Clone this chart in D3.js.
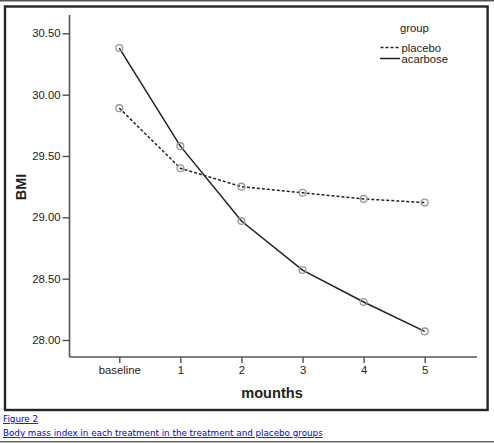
<!DOCTYPE html>
<html>
<head>
<meta charset="utf-8">
<script src="https://cdn.jsdelivr.net/npm/d3@7"></script>
<style>
  body { margin: 0; background: #fff; }
  svg { display: block; }
  .tick text { font-family: "Liberation Sans", Arial, sans-serif; font-size: 11.3px; fill: #222; }
  .caption { font-family: "DejaVu Sans", Verdana, sans-serif; font-size: 8.75px; fill: #0000ee; text-decoration: underline; }
</style>
</head>
<body>
<script>
// months on the x axis
var months = ["baseline", "1", "2", "3", "4", "5"];
// mean BMI per group
var placebo = [29.89, 29.40, 29.25, 29.20, 29.15, 29.12];
var acarbose = [30.38, 29.58, 28.97, 28.57, 28.31, 28.07];
var yTicks = [28.0, 28.5, 29.0, 29.5, 30.0, 30.5];

var W = 494, H = 443;

var svg = d3.select("body").append("svg")
    .attr("width", W)
    .attr("height", H);

svg.append("rect").attr("width", W).attr("height", H).attr("fill", "#fff");

// page rules
svg.append("line").attr("x1", 0).attr("x2", W).attr("y1", 0.8).attr("y2", 0.8)
    .attr("stroke", "#555").attr("stroke-width", 1.6);
svg.append("line").attr("x1", 0).attr("x2", W).attr("y1", 441.8).attr("y2", 441.8)
    .attr("stroke", "#666").attr("stroke-width", 1.6);

// figure frame
svg.append("rect")
    .attr("x", 5).attr("y", 6.5)
    .attr("width", 482.6).attr("height", 403.5)
    .attr("fill", "none")
    .attr("stroke", "#262626")
    .attr("stroke-width", 2.4);

var x = d3.scalePoint().domain(months).range([119.3, 424.7]);
var y = d3.scaleLinear().domain([28, 30.5]).range([340, 33.3]);

var axisX0 = 69.5, axisY0 = 357;

// y axis
var gy = svg.append("g").attr("transform", "translate(" + axisX0 + ",0)")
    .call(d3.axisLeft(y).tickValues(yTicks).tickFormat(d3.format(".2f"))
        .tickSize(7).tickSizeOuter(0).tickPadding(2));
gy.select(".domain").remove();
gy.selectAll(".tick line").attr("stroke", "#444").attr("stroke-width", 1.3);

svg.append("line")
    .attr("x1", axisX0).attr("x2", axisX0).attr("y1", 15).attr("y2", axisY0)
    .attr("stroke", "#555").attr("stroke-width", 1.6);

// x axis
var gx = svg.append("g").attr("transform", "translate(0," + axisY0 + ")")
    .call(d3.axisBottom(x).tickSize(6).tickSizeOuter(0).tickPadding(3));
gx.select(".domain").remove();
gx.selectAll(".tick line").attr("stroke", "#444").attr("stroke-width", 1.3);

svg.append("line")
    .attr("x1", axisX0).attr("x2", 477).attr("y1", axisY0).attr("y2", axisY0)
    .attr("stroke", "#555").attr("stroke-width", 1.6);

// axis titles
svg.append("text")
    .attr("x", 272).attr("y", 398)
    .attr("text-anchor", "middle")
    .style("font-family", "Liberation Sans, Arial, sans-serif")
    .style("font-size", "14.6px").style("font-weight", "bold").style("fill", "#222")
    .text("mounths");

svg.append("text")
    .attr("transform", "translate(26,187) rotate(-90)")
    .attr("text-anchor", "middle")
    .style("font-family", "Liberation Sans, Arial, sans-serif")
    .style("font-size", "14.5px").style("font-weight", "bold").style("fill", "#222")
    .text("BMI");

// series
var line = d3.line()
    .x(function(d, i) { return x(months[i]); })
    .y(function(d) { return y(d); });

svg.append("path").datum(placebo)
    .attr("d", line)
    .attr("fill", "none")
    .attr("stroke", "#222")
    .attr("stroke-width", 1.5)
    .attr("stroke-dasharray", "3,2");

svg.append("path").datum(acarbose)
    .attr("d", line)
    .attr("fill", "none")
    .attr("stroke", "#222")
    .attr("stroke-width", 1.5);

[placebo, acarbose].forEach(function(series) {
    svg.append("g").selectAll("circle")
        .data(series)
        .enter().append("circle")
        .attr("cx", function(d, i) { return x(months[i]); })
        .attr("cy", function(d) { return y(d); })
        .attr("r", 3.4)
        .attr("fill", "none")
        .attr("stroke", "#999")
        .attr("stroke-width", 1.3);
});

// legend
var lg = svg.append("g")
    .style("font-family", "Liberation Sans, Arial, sans-serif")
    .style("font-size", "11.3px").style("fill", "#222");

lg.append("text").attr("x", 400).attr("y", 32).text("group");
lg.append("line").attr("x1", 380.5).attr("x2", 399).attr("y1", 47.5).attr("y2", 47.5)
    .attr("stroke", "#222").attr("stroke-width", 1.5).attr("stroke-dasharray", "3,2");
lg.append("text").attr("x", 401.5).attr("y", 51.5).text("placebo");
lg.append("line").attr("x1", 380).attr("x2", 400).attr("y1", 58.5).attr("y2", 58.5)
    .attr("stroke", "#222").attr("stroke-width", 1.5);
lg.append("text").attr("x", 401.5).attr("y", 62.5).text("acarbose");

// caption
svg.append("text").attr("class", "caption").attr("x", 3).attr("y", 422).text("Figure 2");
svg.append("text").attr("class", "caption").attr("x", 3).attr("y", 436)
    .text("Body mass index in each treatment in the treatment and placebo groups");
</script>
</body>
</html>
